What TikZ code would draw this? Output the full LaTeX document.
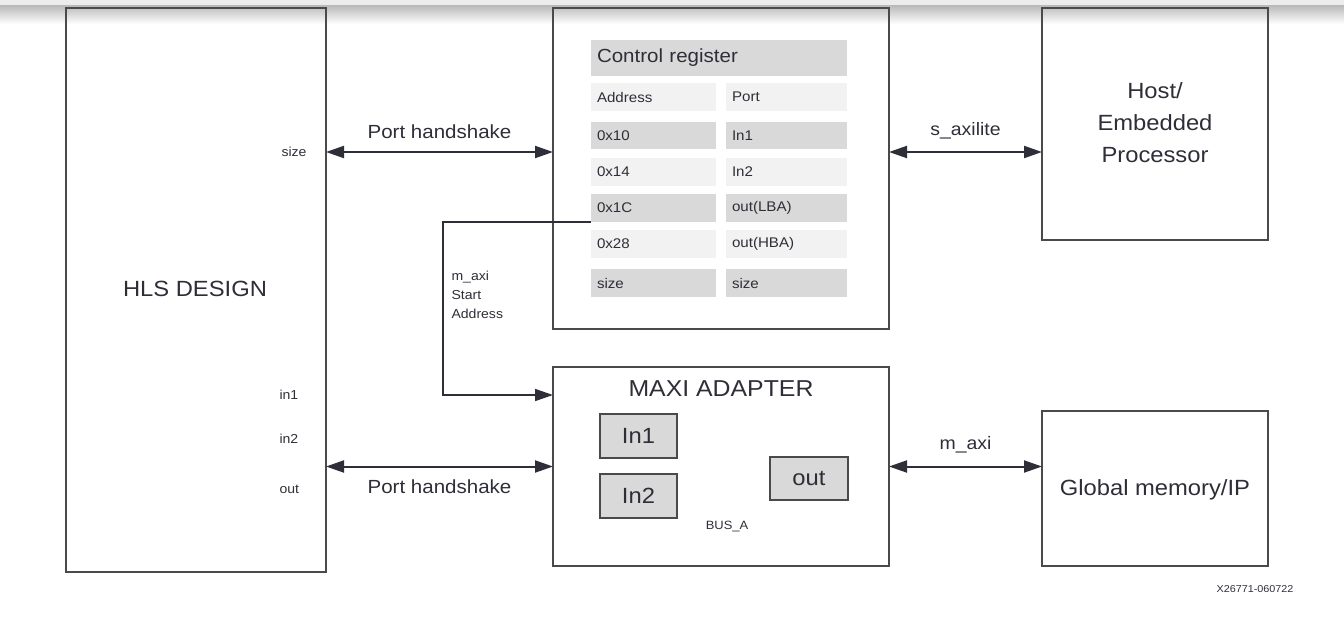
\documentclass[tikz,border=0pt]{standalone}
\usepackage{fontspec}
\setmainfont{Liberation Sans}[FakeStretch=1.08]
\usetikzlibrary{arrows.meta}

\definecolor{linegray}{HTML}{4A4A4A}
\definecolor{cellgray}{HTML}{D9D9D9}
\definecolor{celllight}{HTML}{F2F2F2}
\definecolor{inkgray}{HTML}{2E2E38}
\definecolor{bandgray}{HTML}{ECECEC}

\newcommand{\fsz}[1]{\fontsize{#1}{#1}\selectfont}
\newcommand{\fszl}[2]{\fontsize{#1}{#2}\selectfont}

\begin{document}
\begin{tikzpicture}
        [x=1pt, y=-1pt, text=inkgray,
        block/.style={draw=linegray, line width=2pt, anchor=north west, inner sep=0pt, outer sep=0pt},
        reg/.style={block, fill=cellgray, line width=1.6pt},
        cell/.style={anchor=north west, inner xsep=6pt, inner ysep=0pt, outer sep=0pt, minimum height=28pt, align=left, font=\fsz{14}},
        dark/.style={cell, fill=cellgray},
        light/.style={cell, fill=celllight},
        port/.style={anchor=west, font=\fsz{13}},
        big/.style={font=\fsz{22}},
        mid/.style={font=\fsz{19}},
        link/.style={draw=inkgray, line width=2pt},
        both/.style={link, {Triangle[length=18pt,width=12pt]}-{Triangle[length=18pt,width=12pt]}},
        single/.style={link, -{Triangle[length=18pt,width=12pt]}}]

        \useasboundingbox (0,0) rectangle (1344,616);

        % top band
        \fill[bandgray] (0,0) rectangle (1344,5);
        \shade[top color=black!28, bottom color=white] (0,5) rectangle (1344,24);

        % main blocks
        \node[block, minimum width=260pt, minimum height=564pt] (hls) at (66,8) {};
        \node[block, minimum width=336pt, minimum height=321pt] (ctrl) at (553,8) {};
        \node[block, minimum width=336pt, minimum height=199pt] (maxi) at (553,367) {};
        \node[block, minimum width=226pt, minimum height=232pt] (host) at (1042,8) {};
        \node[block, minimum width=226pt, minimum height=155pt] (gmem) at (1042,411) {};

        % block labels
        \node[big] (hlslabel) at (195,289) {HLS DESIGN};
        \node[align=center, font=\fszl{22}{32}] (hostlabel) at (1155,123) {Host/\\Embedded\\Processor};
        \node[big] (gmemlabel) at (1155,490) {Global memory/IP};
        \node[font=\fsz{23}] (maxilabel) at (721,389) {MAXI ADAPTER};

        % ports of the HLS design
        \node[port] (psize) at (278,152) {size};
        \node[port] (pin1) at (276,395) {in1};
        \node[port] (pin2) at (276,439) {in2};
        \node[port] (pout) at (276,489) {out};

        % control register table
        \node[dark, text width=244pt, minimum height=36pt, font=\fsz{19}] (head) at (591,40) {Control register};
        \node[light, text width=113pt] (caddr) at (591,83) {Address};
        \node[light, text width=109pt] (cport) at (726,83) {Port};
        \node[dark, text width=113pt, minimum height=27pt] (c10) at (591,122) {0x10};
        \node[dark, text width=109pt, minimum height=27pt] (cin1) at (726,122) {In1};
        \node[light, text width=113pt] (c14) at (591,158) {0x14};
        \node[light, text width=109pt] (cin2) at (726,158) {In2};
        \node[dark, text width=113pt] (c1c) at (591,194) {0x1C};
        \node[dark, text width=109pt] (clba) at (726,194) {out(LBA)};
        \node[light, text width=113pt] (c28) at (591,230) {0x28};
        \node[light, text width=109pt] (chba) at (726,230) {out(HBA)};
        \node[dark, text width=113pt] (csize) at (591,269) {size};
        \node[dark, text width=109pt] (csz) at (726,269) {size};

        % buffers in the adapter
        \node[reg, minimum width=77pt, minimum height=44pt, font=\fsz{22}] (bin1) at (600,414) {In1};
        \node[reg, minimum width=77pt, minimum height=44pt, font=\fsz{22}] (bin2) at (600,474) {In2};
        \node[reg, minimum width=78pt, minimum height=43pt, font=\fsz{22}] (bout) at (770,457) {out};
        \node[font=\fsz{12}] (bus) at (727,526) {BUS\_A};

        % connections
        \draw[both] (hls.east |- psize) -- (ctrl.west |- psize) node[midway, above=9pt, mid] {Port handshake};
        \draw[both] (hls.east |- maxi.west) -- (maxi.west) node[midway, below=9pt, mid] {Port handshake};
        \draw[both] (ctrl.east |- psize) -- (host.west |- psize) node[midway, above=9pt, font=\fsz{18}] {s\_axilite};
        \draw[both] (maxi.east) -- (maxi.east -| gmem.west) node[midway, above=9pt, font=\fsz{18}] {m\_axi};
        \draw[single, line width=1.6pt] (c1c.south west) -- ++(-148,0) |- (maxi.west |- pin1);
        \node[anchor=north west, align=left, font=\fszl{13}{19}] (startlbl) at (448,268) {m\_axi\\Start\\Address};

        % figure number
        \node[font=\fsz{10}] (fignum) at (1255,589) {X26771-060722};

    \end{tikzpicture}
\end{document}
